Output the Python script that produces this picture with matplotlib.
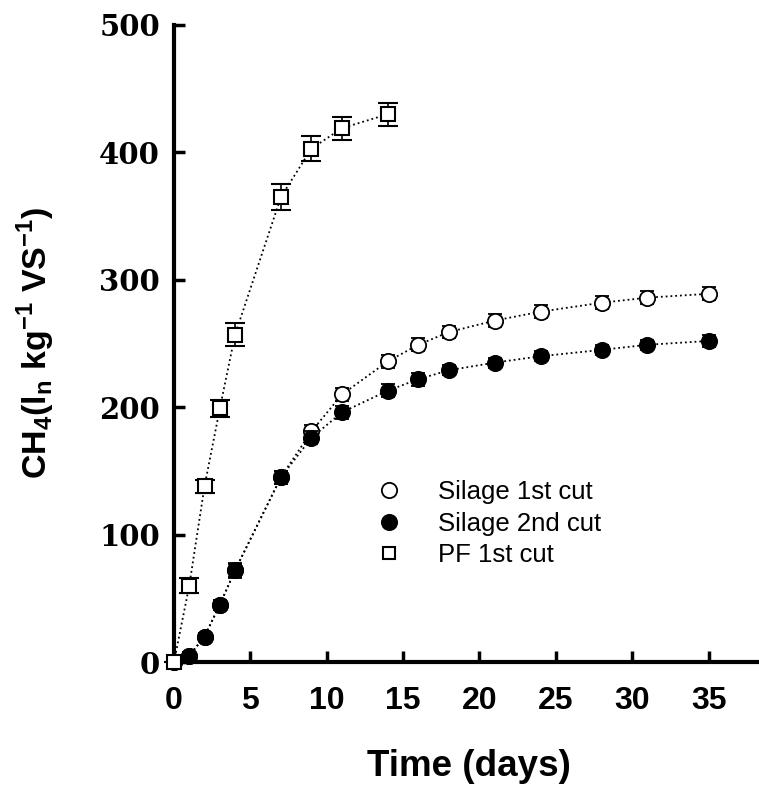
import matplotlib
matplotlib.use("Agg")
import matplotlib.pyplot as plt
from matplotlib.lines import Line2D

# Data
days_silage = [0, 1, 2, 3, 4, 7, 9, 11, 14, 16, 18, 21, 24, 28, 31, 35]
silage_1st = [0, 5, 20, 45, 72, 145, 181, 210, 236, 249, 259, 268, 275, 282, 286, 289]
silage_1st_err = [0, 3, 3, 4, 5, 5, 5, 5, 5, 5, 5, 5, 5, 5, 5, 5]
silage_2nd = [0, 5, 20, 45, 72, 145, 176, 196, 213, 222, 229, 235, 240, 245, 249, 252]
silage_2nd_err = [0, 3, 3, 4, 6, 5, 5, 5, 5, 5, 4, 4, 4, 4, 4, 5]
days_pf = [0, 1, 2, 3, 4, 7, 9, 11, 14]
pf_1st = [0, 60, 138, 199, 257, 365, 403, 419, 430]
pf_1st_err = [0, 6, 5, 7, 9, 10, 10, 9, 9]

labels = ["Silage 1st cut", "Silage 2nd cut", "PF 1st cut"]
xticks = [0, 5, 10, 15, 20, 25, 30, 35]
yticks = [0, 100, 200, 300, 400, 500]

fig = plt.figure(figsize=(7.59, 7.92), dpi=100)
ax = fig.add_axes([174/759, 1-662/792, 1-174/759, (662-25)/792])

line_kw = dict(color="black", linestyle=":", linewidth=1.3, clip_on=False)

ax.errorbar(days_silage, silage_1st, yerr=silage_1st_err, fmt="o", mfc="white",
            mec="black", mew=1.3, ms=11, ecolor="black", elinewidth=1.2,
            capsize=5, capthick=1.2, zorder=3, clip_on=False)
ax.plot(days_silage, silage_1st, **line_kw, zorder=2)

ax.errorbar(days_silage, silage_2nd, yerr=silage_2nd_err, fmt="o", mfc="black",
            mec="black", mew=1.3, ms=11, ecolor="black", elinewidth=1.2,
            capsize=5, capthick=1.2, zorder=4, clip_on=False)
ax.plot(days_silage, silage_2nd, **line_kw, zorder=2)

ax.errorbar(days_pf, pf_1st, yerr=pf_1st_err, fmt="s", mfc="white",
            mec="black", mew=1.5, ms=10, ecolor="black", elinewidth=1.2,
            capsize=7, capthick=1.5, zorder=5, clip_on=False)
ax.plot(days_pf, pf_1st, **line_kw, zorder=2)

ax.set_xlim(0, 38.3)
ax.set_ylim(0, 500)
ax.set_xticks(xticks)
ax.set_yticks(yticks)

for s in ["top", "right"]:
    ax.spines[s].set_visible(False)
for s in ["left", "bottom"]:
    ax.spines[s].set_linewidth(3)

ax.tick_params(axis="both", direction="in", length=8, width=2.5)
ax.tick_params(axis="x", pad=17)
ax.tick_params(axis="y", pad=10)
for t in ax.get_xticklabels():
    t.set_fontfamily("Liberation Sans")
    t.set_fontweight("bold")
    t.set_fontsize(23)
for t in ax.get_yticklabels():
    t.set_fontfamily("DejaVu Serif")
    t.set_fontweight("bold")
    t.set_fontsize(21)

ax.set_xlabel("Time (days)", fontfamily="Liberation Sans", fontweight="bold", fontsize=26.5)
ax.xaxis.set_label_coords(0.504, -0.136)
fig.text(36/759, 1-343/792,
         r"CH$_\mathregular{4}$(l$_\mathregular{n}$ kg$^\mathregular{-1}$ VS$^\mathregular{-1}$)",
         rotation=90, ha="center", va="center", fontfamily="Liberation Sans",
         fontweight="bold", fontsize=24.5)

# Legend
handles = [
    Line2D([], [], marker="o", ls="none", mfc="white", mec="black", mew=1.3, ms=11),
    Line2D([], [], marker="o", ls="none", mfc="black", mec="black", mew=1.3, ms=11),
    Line2D([], [], marker="s", ls="none", mfc="white", mec="black", mew=1.5, ms=8),
]
leg = ax.legend(handles, labels, loc="upper left",
                bbox_to_anchor=((363-174)/585, (662-480)/637),
                frameon=False, prop={"family": "Liberation Sans", "size": 18.5},
                handletextpad=0.9, labelspacing=0.3, borderaxespad=0, borderpad=0)

fig.savefig("out.png", dpi=100)
